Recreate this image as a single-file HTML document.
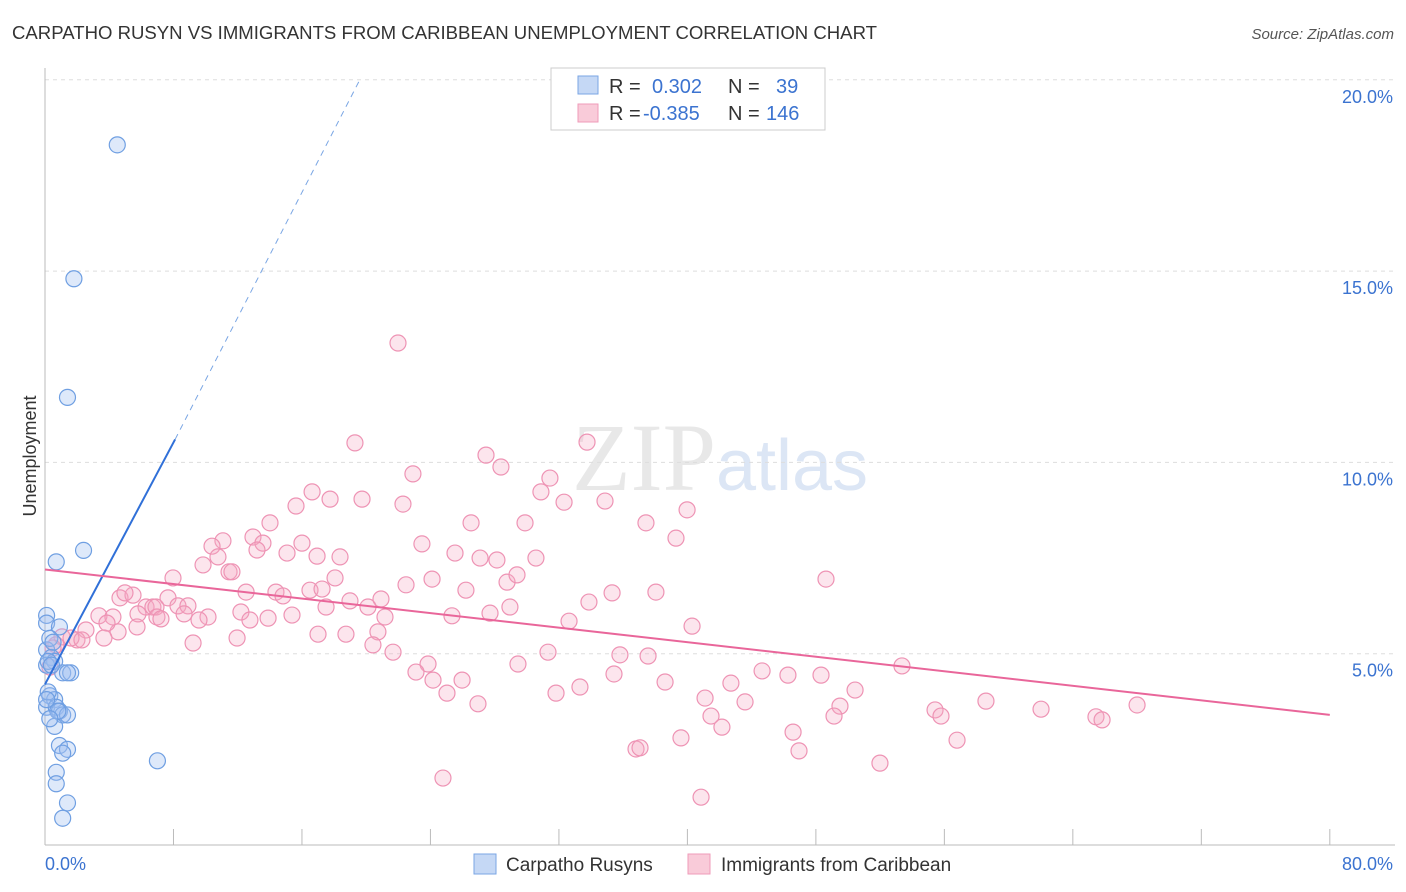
<!DOCTYPE html>
<html><head><meta charset="utf-8">
<style>
body{margin:0;background:#fff;font-family:"Liberation Sans",sans-serif;}
#c{position:relative;width:1406px;height:892px;overflow:hidden;}
</style></head>
<body>
<div id="c">
<svg id="s" width="1406" height="892" xmlns="http://www.w3.org/2000/svg">
<text x="12" y="39" font-size="18" fill="#333" textLength="865" lengthAdjust="spacingAndGlyphs">CARPATHO RUSYN VS IMMIGRANTS FROM CARIBBEAN UNEMPLOYMENT CORRELATION CHART</text>
<text x="1394" y="39" font-size="15" fill="#555" font-style="italic" text-anchor="end">Source: ZipAtlas.com</text>
<text x="36" y="456" font-size="18" fill="#333" text-anchor="middle" transform="rotate(-90 36 456)">Unemployment</text>
<text x="720" y="490" font-size="96" fill="#e8e8e8" text-anchor="middle" font-family="Liberation Serif,serif">ZIP<tspan fill="#dce6f5" font-family="Liberation Sans,sans-serif" font-size="72">atlas</tspan></text>
<g id="grid"></g><g id="axes"></g><g id="pts"></g><g id="trend"></g>
<g>
<rect x="551" y="68" width="274" height="62" fill="#fff" stroke="#ccc"/>
<rect x="578" y="76" width="20" height="18" fill="#c5d8f5" stroke="#7aa6e4"/>
<rect x="578" y="104" width="20" height="18" fill="#f9cbd9" stroke="#ef9bb9"/>
<text x="609" y="93" font-size="20" fill="#333">R = <tspan fill="#3b73d0" x="652">0.302</tspan><tspan x="728">N = </tspan><tspan fill="#3b73d0" x="776">39</tspan></text>
<text x="609" y="120" font-size="20" fill="#333">R = <tspan fill="#3b73d0" x="643">-0.385</tspan><tspan x="728">N = </tspan><tspan fill="#3b73d0" x="766">146</tspan></text>
</g>
<g>
<rect x="474" y="854" width="22" height="20" fill="#c5d8f5" stroke="#7aa6e4"/>
<text x="506" y="871" font-size="19" fill="#333">Carpatho Rusyns</text>
<rect x="688" y="854" width="22" height="20" fill="#f9cbd9" stroke="#ef9bb9"/>
<text x="721" y="871" font-size="19" fill="#333">Immigrants from Caribbean</text>
</g>
</svg>
</div>
<script>
const xTicks=[0,8,16,24,32,40,48,56,64,72,80];
const yTicks=[5,10,15,20];
const yTickLabels=["5.0%","10.0%","15.0%","20.0%"];
const blueX=[4.5,1.8,1.4,2.4,0.7,0.1,0.1,0.9,0.1,0.4,0.6,0.1,1.1,1.6,1.4,0.3,0.6,0.1,0.7,0.9,1.1,1.4,0.6,0.9,1.4,1.1,7.0,0.7,0.7,1.4,1.1,0.3,0.2,0.5,0.8,0.2,0.1,0.3,0.4];
const blueY=[18.3,14.8,11.7,7.7,7.4,6.0,5.8,5.7,5.1,4.9,4.8,4.7,4.5,4.5,4.5,3.9,3.8,3.6,3.6,3.5,3.4,3.4,3.1,2.6,2.5,2.4,2.2,1.9,1.6,1.1,0.7,5.4,4.8,5.3,3.5,4.0,3.8,3.3,4.7];
const pinkPx=[[398,343],[355,443],[587,442],[486,455],[501,467],[413,474],[550,478],[541,492],[312,492],[330,499],[362,499],[403,504],[296,506],[564,502],[605,501],[687,510],[471,523],[525,523],[646,523],[270,523],[253,537],[223,541],[212,546],[263,543],[257,550],[302,543],[422,544],[676,538],[455,553],[480,558],[497,560],[536,558],[287,553],[317,556],[340,557],[218,557],[203,565],[229,572],[232,572],[173,578],[432,579],[507,582],[335,578],[517,575],[826,579],[406,585],[466,590],[276,592],[283,596],[310,590],[322,589],[612,593],[656,592],[120,598],[133,595],[168,598],[381,599],[350,601],[246,592],[589,602],[510,607],[125,593],[146,607],[153,607],[156,607],[178,606],[188,606],[241,612],[326,607],[368,607],[490,613],[452,616],[99,616],[113,617],[138,614],[157,617],[161,619],[184,614],[208,617],[199,620],[250,620],[268,618],[292,615],[385,617],[569,621],[692,626],[86,630],[118,632],[107,623],[137,627],[62,637],[77,640],[71,638],[56,645],[104,638],[82,640],[53,648],[237,638],[318,634],[346,634],[378,632],[373,645],[193,643],[393,652],[548,652],[620,655],[648,656],[428,664],[518,664],[902,666],[416,672],[614,674],[433,680],[462,680],[731,683],[762,671],[788,675],[821,675],[556,693],[580,687],[665,682],[705,698],[855,690],[447,693],[478,704],[745,702],[840,706],[935,710],[941,716],[986,701],[1041,709],[1096,717],[1137,705],[1102,720],[711,716],[834,716],[722,727],[793,732],[681,738],[957,740],[636,749],[640,748],[799,751],[880,763],[443,778],[701,797],[50,667]];
const pinkX=pinkPx.map(p=>+((p[0]-45)/16.06).toFixed(2));
const pinkY=pinkPx.map(p=>+((845-p[1])/38.26).toFixed(2));
const blueTrend=[[0,4.2],[8.1,10.6],[19.6,20.0]];
const pinkTrend=[[0,7.2],[80,3.4]];

const X=v=>45+v*16.06, Y=v=>845-v*38.26;
const NS="http://www.w3.org/2000/svg";
function mk(tag,parent,attrs){const e=document.createElementNS(NS,tag);for(const k in attrs)e.setAttribute(k,attrs[k]);document.getElementById(parent).appendChild(e);return e;}
yTicks.forEach((t,i)=>{
 const l=mk('line','grid',{x1:45,x2:1395,y1:Y(t),y2:Y(t),stroke:'#ddd','stroke-dasharray':'4,4'});
 
 
 const tx=mk('text','axes',{x:1393,y:Y(t)+23,'font-size':18,fill:'#3b73d0','text-anchor':'end'});
 tx.textContent=yTickLabels[i];
 
 
});
const ya=mk('line','axes',{x1:45,x2:45,y1:68,y2:845,stroke:'#bbb'});


const xa=mk('line','axes',{x1:45,x2:1395,y1:845,y2:845,stroke:'#bbb'});


xTicks.forEach(t=>{
 const l=mk('line','axes',{x1:X(t),x2:X(t),y1:829,y2:845,stroke:'#bbb'});
 
 
});
const xl0=mk('text','axes',{x:45,y:870,'font-size':18,fill:'#3b73d0'});xl0.textContent='0.0%';


const xl1=mk('text','axes',{x:1393,y:870,'font-size':18,fill:'#3b73d0','text-anchor':'end'});xl1.textContent='80.0%';


pinkX.forEach((v,i)=>{
 const c=mk('circle','pts',{cx:X(v),cy:Y(pinkY[i]),r:8,fill:'rgba(246,170,196,0.3)',stroke:'#ee93b4','stroke-width':1.2});
 
 
});
blueX.forEach((v,i)=>{
 const c=mk('circle','pts',{cx:X(v),cy:Y(blueY[i]),r:8,fill:'rgba(160,192,240,0.35)',stroke:'#6f9fe2','stroke-width':1.2});
 
 
});
const b1=mk('line','trend',{x1:X(blueTrend[0][0]),y1:Y(blueTrend[0][1]),x2:X(blueTrend[1][0]),y2:Y(blueTrend[1][1]),stroke:'#3070d8','stroke-width':2});


const b2=mk('line','trend',{x1:X(blueTrend[1][0]),y1:Y(blueTrend[1][1]),x2:X(blueTrend[2][0]),y2:Y(blueTrend[2][1]),stroke:'#7aa6e4','stroke-width':1,'stroke-dasharray':'6,5'});


const p1=mk('line','trend',{x1:X(pinkTrend[0][0]),y1:Y(pinkTrend[0][1]),x2:X(pinkTrend[1][0]),y2:Y(pinkTrend[1][1]),stroke:'#e9669a','stroke-width':2});


</script>
</body></html>
